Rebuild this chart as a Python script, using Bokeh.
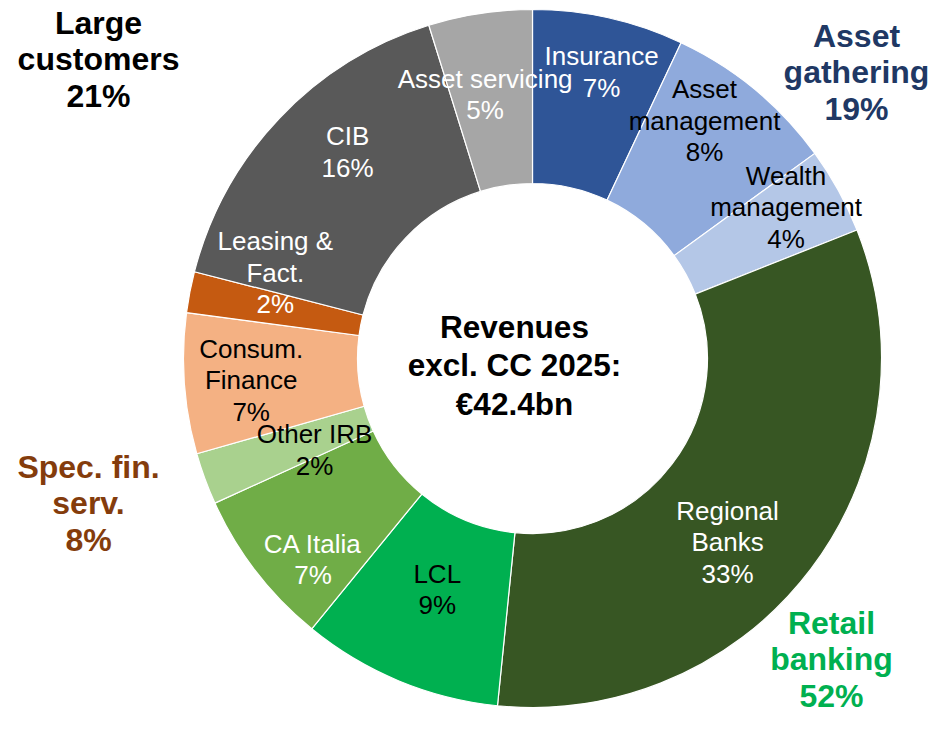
import math
from bokeh.plotting import figure
from bokeh.models import Range1d, ColumnDataSource
from bokeh.core.properties import value
from bokeh.embed import file_html
from bokeh.resources import INLINE

# ---------------- data ----------------
segments = ["Insurance", "Asset\nmanagement", "Wealth\nmanagement", "Regional\nBanks", "LCL",
            "CA Italia", "Other IRB", "Consum.\nFinance", "Leasing &\nFact.", "CIB", "Asset servicing"]
shares = [7.0, 8.0, 4.0, 32.6, 9.3, 7.3, 2.4, 6.5, 1.9, 16.2, 4.8]
seg_group = ["Asset\ngathering", "Asset\ngathering", "Asset\ngathering",
             "Retail\nbanking", "Retail\nbanking", "Retail\nbanking", "Retail\nbanking",
             "Spec. fin.\nserv.", "Spec. fin.\nserv.",
             "Large\ncustomers", "Large\ncustomers"]
groups = ["Asset\ngathering", "Retail\nbanking", "Spec. fin.\nserv.", "Large\ncustomers"]
center_title = "Revenues\nexcl. CC 2025:\n€42.4bn"

# ---------------- styles / layout ----------------
seg_colors = ["#2F5597", "#8FAADC", "#B4C7E7", "#375623", "#00B050",
              "#70AD47", "#A9D18E", "#F4B183", "#C55A11", "#595959", "#A6A6A6"]
seg_text_colors = ["white", "black", "black", "white", "black",
                   "white", "black", "black", "white", "white", "white"]
# label nudges from the ring mid-radius, in screen px (dx right, dy down)
label_nudge = [(12, -31), (5, -36), (24, -25), (-14, 26), (5, -11),
               (-12, 41), (28, 1), (-20, 3), (0, -36), (5, -26), (-8, -5)]
group_colors = ["#203864", "#00B050", "#843C0C", "#000000"]
group_pos = [(856, 72), (831, 659), (88, 503), (98, 59)]  # screen px

W, H = 928, 719
OFF = 0


def sx(x):
    return x - OFF


def sy(y):
    return (H + OFF) - y


CX, CY = 532, 358
R_OUT, R_IN = 349, 175
R_MID = (R_OUT + R_IN) / 2

p = figure(width=W, height=H, output_backend="svg", toolbar_location=None,
           x_range=Range1d(0, W), y_range=Range1d(0, H), min_border=0)
p.axis.visible = False
p.grid.visible = False
p.outline_line_color = None
p.background_fill_color = "white"
p.border_fill_color = "white"

total = sum(shares)
starts, ends, mids = [], [], []
cum = 0.0
for v in shares:
    a0 = cum / total
    cum += v
    a1 = cum / total
    starts.append(math.pi / 2 - 2 * math.pi * a0)
    ends.append(math.pi / 2 - 2 * math.pi * a1)
    mids.append((a0 + a1) / 2 * 2 * math.pi)

src = ColumnDataSource(dict(x=[sx(CX)] * len(shares), y=[sy(CY)] * len(shares),
                            start=starts, end=ends, color=seg_colors))
p.annular_wedge(x="x", y="y", inner_radius=R_IN, outer_radius=R_OUT,
                start_angle="start", end_angle="end", direction="clock",
                fill_color="color", line_color="white", line_width=1.2, source=src)

# segment labels
lx, ly, lt = [], [], []
for name, v, m, (dx, dy) in zip(segments, shares, mids, label_nudge):
    px = CX + R_MID * math.sin(m) + dx
    py = CY - R_MID * math.cos(m) + dy
    lx.append(sx(px))
    ly.append(sy(py))
    lt.append(f"{name}\n{int(v + 0.5)}%")
lsrc = ColumnDataSource(dict(x=lx, y=ly, t=lt, c=seg_text_colors))
p.text(x="x", y="y", text="t", text_color="c", source=lsrc,
       text_font=value("Liberation Sans"), text_font_size="26px",
       text_align="center", text_baseline="middle", text_line_height=1.05)

# group labels
gx, gy, gt = [], [], []
for g, (px, py) in zip(groups, group_pos):
    tot = sum(v for v, sg in zip(shares, seg_group) if sg == g)
    gx.append(sx(px))
    gy.append(sy(py))
    gt.append(f"{g}\n{int(tot + 0.5)}%")
gsrc = ColumnDataSource(dict(x=gx, y=gy, t=gt, c=group_colors))
p.text(x="x", y="y", text="t", text_color="c", source=gsrc,
       text_font=value("Liberation Sans"), text_font_size="32px", text_font_style="bold",
       text_align="center", text_baseline="middle", text_line_height=1.02)

# centre title
p.text(x=[sx(514)], y=[sy(365)], text=[center_title], text_color="black",
       text_font=value("Liberation Sans"), text_font_size="31.5px", text_font_style="bold",
       text_align="center", text_baseline="middle", text_line_height=1.056)

open("out.html", "w").write(file_html(p, INLINE))
